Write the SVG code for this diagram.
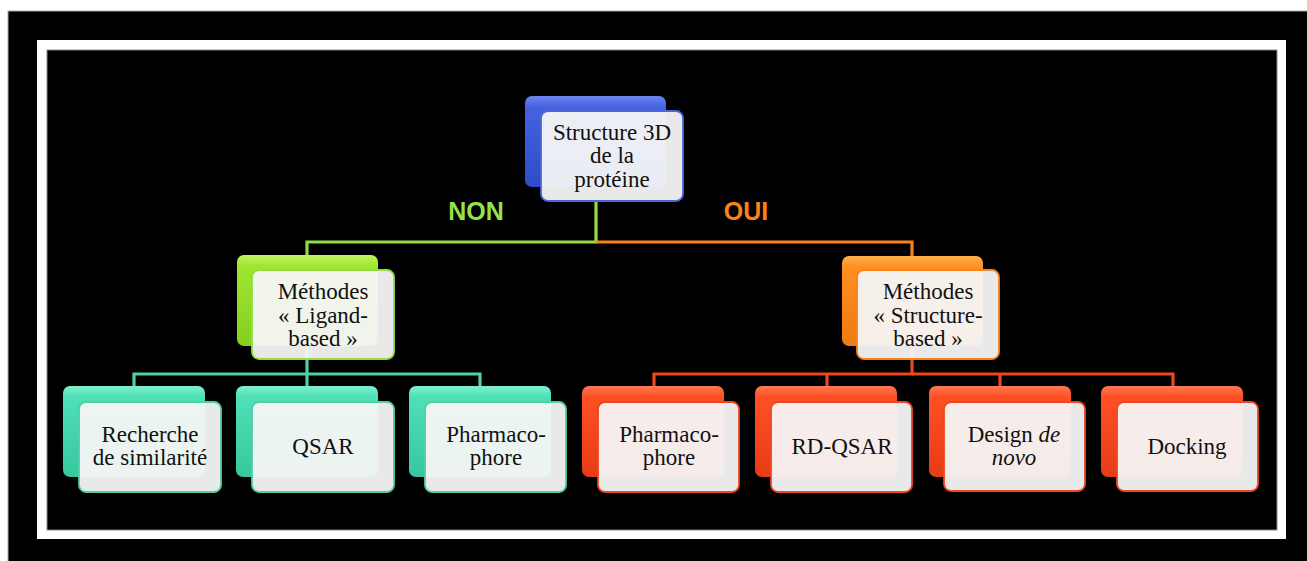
<svg xmlns="http://www.w3.org/2000/svg" width="1307" height="561" viewBox="0 0 1307 561">
<style>
.back{stroke:none}
.front{stroke-width:1.8}
.t{font-family:"Liberation Serif","Times New Roman",serif;font-size:23px;fill:#111;text-anchor:middle}
.lbl{font-family:"Liberation Sans",Arial,sans-serif;font-size:25px;font-weight:bold;text-anchor:middle}
.c{fill:none;stroke-width:3.2}
</style>
<defs>
<linearGradient id="gBlue" x1="0" y1="0" x2="0" y2="1"><stop offset="0" stop-color="#6c86f0"/><stop offset="0.12" stop-color="#4562e0"/><stop offset="1" stop-color="#2f4cc6"/></linearGradient>
<linearGradient id="gGreen" x1="0" y1="0" x2="0" y2="1"><stop offset="0" stop-color="#c2f560"/><stop offset="0.12" stop-color="#9fe631"/><stop offset="1" stop-color="#86cf20"/></linearGradient>
<linearGradient id="gOrange" x1="0" y1="0" x2="0" y2="1"><stop offset="0" stop-color="#ffb050"/><stop offset="0.12" stop-color="#ff8f22"/><stop offset="1" stop-color="#f07a10"/></linearGradient>
<linearGradient id="gTeal" x1="0" y1="0" x2="0" y2="1"><stop offset="0" stop-color="#7df0cf"/><stop offset="0.12" stop-color="#4fe0b8"/><stop offset="1" stop-color="#36c79e"/></linearGradient>
<linearGradient id="gRed" x1="0" y1="0" x2="0" y2="1"><stop offset="0" stop-color="#ff7a50"/><stop offset="0.12" stop-color="#ff4f25"/><stop offset="1" stop-color="#e63c15"/></linearGradient>
<linearGradient id="gLine" x1="0" y1="0" x2="0" y2="1"><stop offset="0" stop-color="#999"/><stop offset="1" stop-color="#666"/></linearGradient>
</defs>
<rect x="0" y="0" width="1307" height="561" fill="#fff"/>
<rect x="8" y="11" width="1300" height="551" fill="#000" stroke="#aaa" stroke-width="1"/>
<rect x="37" y="40" width="1249" height="499" fill="#fff"/>
<rect x="47" y="50" width="1230" height="480" fill="#000" stroke="#888" stroke-width="1"/>
<line x1="1266" y1="59" x2="1266" y2="521" stroke="url(#gLine)" stroke-width="1.5"/>

<g id="connectors">
<polyline class="c" stroke="#92dd45" points="596,201 596,242 307,242 307,256"/>
<polyline class="c" stroke="#f7821e" points="596,242 912,242 912,256"/>
<polyline class="c" stroke="#4fcfa8" points="307,346 307,374 134,374 134,387"/>
<polyline class="c" stroke="#4fcfa8" points="307,374 480,374 480,387"/>
<polyline class="c" stroke="#4fcfa8" points="307,374 307,387"/>
<polyline class="c" stroke="#ef4520" points="912,346 912,374 654,374 654,387"/>
<polyline class="c" stroke="#ef4520" points="827,374 827,387"/>
<polyline class="c" stroke="#ef4520" points="912,374 1173,374 1173,387"/>
<polyline class="c" stroke="#ef4520" points="1000,374 1000,387"/>
</g>

<text class="lbl" x="476" y="220" fill="#96e04c">NON</text>
<text class="lbl" x="746" y="220" fill="#f7821e">OUI</text>

<g id="n-top">
<rect class="back" x="525" y="96" width="141" height="91" rx="7" fill="url(#gBlue)"/>
<rect class="front" x="541" y="111" width="142" height="90" rx="7" fill="#f5f5f7" fill-opacity="0.95" stroke="#4a66d8"/>
<text class="t" x="612" y="140">Structure 3D</text>
<text class="t" x="612" y="163">de la</text>
<text class="t" x="612" y="187">protéine</text>
</g>

<g id="n-ligand">
<rect class="back" x="237" y="255" width="141" height="91" rx="7" fill="url(#gGreen)"/>
<rect class="front" x="252" y="270" width="142" height="89" rx="7" fill="#f5f5f5" fill-opacity="0.95" stroke="#92dd45"/>
<text class="t" x="323" y="299">Méthodes</text>
<text class="t" x="323" y="323">« Ligand-</text>
<text class="t" x="323" y="346">based »</text>
</g>

<g id="n-structure">
<rect class="back" x="842" y="256" width="141" height="90" rx="7" fill="url(#gOrange)"/>
<rect class="front" x="857" y="270" width="142" height="89" rx="7" fill="#f5f5f5" fill-opacity="0.95" stroke="#f7821e"/>
<text class="t" x="928" y="299">Méthodes</text>
<text class="t" x="928" y="323">« Structure-</text>
<text class="t" x="928" y="346">based »</text>
</g>

<g id="n-recherche">
<rect class="back" x="63" y="386" width="142" height="91" rx="7" fill="url(#gTeal)"/>
<rect class="front" x="79" y="402" width="142" height="90" rx="7" fill="#f5f5f5" fill-opacity="0.95" stroke="#4fcfa8"/>
<text class="t" x="150" y="442">Recherche</text>
<text class="t" x="150" y="465">de similarité</text>
</g>

<g id="n-qsar">
<rect class="back" x="236" y="386" width="142" height="91" rx="7" fill="url(#gTeal)"/>
<rect class="front" x="252" y="402" width="142" height="90" rx="7" fill="#f5f5f5" fill-opacity="0.95" stroke="#4fcfa8"/>
<text class="t" x="323" y="454">QSAR</text>
</g>

<g id="n-pharma-l">
<rect class="back" x="409" y="386" width="142" height="91" rx="7" fill="url(#gTeal)"/>
<rect class="front" x="425" y="402" width="141" height="90" rx="7" fill="#f5f5f5" fill-opacity="0.95" stroke="#4fcfa8"/>
<text class="t" x="496" y="442">Pharmaco-</text>
<text class="t" x="496" y="465">phore</text>
</g>

<g id="n-pharma-r">
<rect class="back" x="582" y="386" width="142" height="91" rx="7" fill="url(#gRed)"/>
<rect class="front" x="598" y="402" width="141" height="90" rx="7" fill="#f5f5f5" fill-opacity="0.95" stroke="#ef4520"/>
<text class="t" x="669" y="442">Pharmaco-</text>
<text class="t" x="669" y="465">phore</text>
</g>

<g id="n-rdqsar">
<rect class="back" x="755" y="386" width="142" height="91" rx="7" fill="url(#gRed)"/>
<rect class="front" x="771" y="402" width="141" height="90" rx="7" fill="#f5f5f5" fill-opacity="0.95" stroke="#ef4520"/>
<text class="t" x="842" y="454">RD-QSAR</text>
</g>

<g id="n-denovo">
<rect class="back" x="929" y="386" width="142" height="91" rx="7" fill="url(#gRed)"/>
<rect class="front" x="944" y="402" width="141" height="89" rx="7" fill="#f5f5f5" fill-opacity="0.95" stroke="#ef4520"/>
<text class="t" x="1014" y="442">Design <tspan font-style="italic">de</tspan></text>
<text class="t" x="1014" y="465" font-style="italic">novo</text>
</g>

<g id="n-docking">
<rect class="back" x="1101" y="386" width="142" height="91" rx="7" fill="url(#gRed)"/>
<rect class="front" x="1117" y="402" width="141" height="89" rx="7" fill="#f5f5f5" fill-opacity="0.95" stroke="#ef4520"/>
<text class="t" x="1187" y="454">Docking</text>
</g>
</svg>
